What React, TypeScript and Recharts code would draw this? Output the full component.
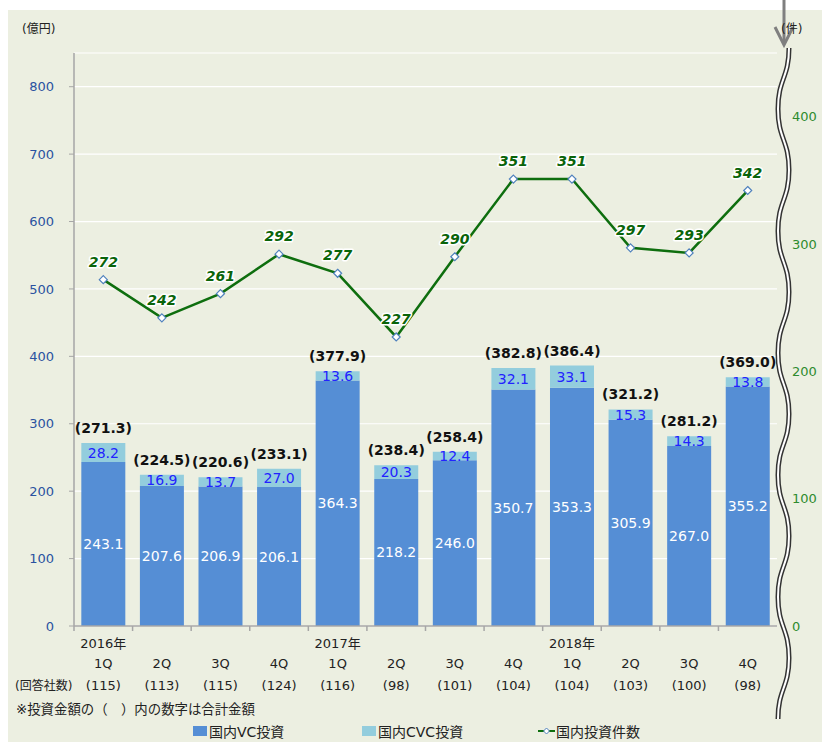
import { ComposedChart, Bar, Line, XAxis, YAxis, CartesianGrid, LabelList } from "recharts";

const IDS = ["16-1", "16-2", "16-3", "16-4", "17-1", "17-2", "17-3", "17-4", "18-1", "18-2", "18-3", "18-4"];
const QUARTERS = ["1Q", "2Q", "3Q", "4Q", "1Q", "2Q", "3Q", "4Q", "1Q", "2Q", "3Q", "4Q"];
const YEARS = ["2016年", "", "", "", "2017年", "", "", "", "2018年", "", "", ""];
const RESPONDENTS = [115, 113, 115, 124, 116, 98, 101, 104, 104, 103, 100, 98];
const VC = [243.1, 207.6, 206.9, 206.1, 364.3, 218.2, 246.0, 350.7, 353.3, 305.9, 267.0, 355.2];
const CVC = [28.2, 16.9, 13.7, 27.0, 13.6, 20.3, 12.4, 32.1, 33.1, 15.3, 14.3, 13.8];
const TOTAL = [271.3, 224.5, 220.6, 233.1, 377.9, 238.4, 258.4, 382.8, 386.4, 321.2, 281.2, 369.0];
const DEALS = [272, 242, 261, 292, 277, 227, 290, 351, 351, 297, 293, 342];
const LEFT_TICKS = [0, 100, 200, 300, 400, 500, 600, 700, 800];
const RIGHT_TICKS = [0, 100, 200, 300, 400];

const W = 822;
const H = 742;
const M_TOP = 53;
const LEFT_W = 74;
const RIGHT_W = 45;
const X_H = H - 626;
const BAND = (W - LEFT_W - RIGHT_W) / IDS.length;

const BG = "#ECEFE1";
const VC_COL = "#558ED5";
const CVC_COL = "#93CDDD";
const LINE_COL = "#0E6E0E";
const AXIS = "#A6A6A6";
const FONT = "'DejaVu Sans', 'Noto Sans CJK JP', sans-serif";

const data = IDS.map((id, i) => ({ id, vc: VC[i], cvc: CVC[i], deals: DEALS[i] }));

function XTick(props: any) {
  const { x, y, payload } = props;
  const i = payload.index;
  const lx = x - BAND / 2;
  return (
    <g fontFamily={FONT} fontSize={13} fill="#222">
      <line x1={lx} x2={lx} y1={y} y2={y + 5} stroke={AXIS} strokeWidth={1.5} />
      {YEARS[i] && (
        <text x={x} y={y + 17} textAnchor="middle" dominantBaseline="central" fill="#222">
          {YEARS[i]}
        </text>
      )}
      <text x={x} y={y + 37} textAnchor="middle" dominantBaseline="central" fill="#222">
        {QUARTERS[i]}
      </text>
      <text x={x} y={y + 59} textAnchor="middle" dominantBaseline="central" fill="#222">
        ({RESPONDENTS[i]})
      </text>
    </g>
  );
}

function Diamond(props: any) {
  const { cx, cy } = props;
  if (cx == null || cy == null) return null;
  return (
    <path
      d={`M${cx},${cy - 4} L${cx + 4},${cy} L${cx},${cy + 4} L${cx - 4},${cy} Z`}
      fill="#fff"
      stroke="#4F81BD"
      strokeWidth={1.2}
    />
  );
}

function CvcLabel(props: any) {
  const { x, y, width, height, index, value } = props;
  const cx = x + width / 2;
  return (
    <g fontFamily={FONT} fontSize={14}>
      <text x={cx} y={y + height / 2} textAnchor="middle" dominantBaseline="central" fill="#2222FF">
        {Number(value).toFixed(1)}
      </text>
      <text x={cx} y={y - 10} textAnchor="middle" fill="#111" fontWeight="bold">
        ({TOTAL[index].toFixed(1)})
      </text>
    </g>
  );
}

function DealLabel(props: any) {
  const { x, y, value } = props;
  return (
    <text
      x={x}
      y={y - 13}
      textAnchor="middle"
      fontFamily={FONT}
      fontSize={14}
      fontWeight="bold"
      fontStyle="italic"
      fill="#0A640A"
      stroke="#fff"
      strokeWidth={3}
      paintOrder="stroke"
      strokeLinejoin="round"
    >
      {value}
    </text>
  );
}

// wavy double line on the right edge (axis break mark)
const wavePath = (() => {
  let d = "M789,48";
  let y = 48;
  let right = true;
  for (let k = 0; k < 11; k++) {
    const from = right ? 789 : 778;
    const to = right ? 778 : 789;
    d += ` C${from},${y + 30} ${to},${y + 31} ${to},${y + 61}`;
    y += 61;
    right = !right;
  }
  return d;
})();

export default function App() {
  return (
    <div style={{ position: "absolute", left: 0, top: 0, width: W, height: H, background: "#fff", fontFamily: FONT }}>
      <div style={{ position: "absolute", left: 8, top: 10, width: W - 8, height: H - 10, background: BG }} />
      <div style={{ position: "absolute", left: 0, top: 0 }}>
        <ComposedChart
          width={W}
          height={H}
          data={data}
          margin={{ top: M_TOP, right: 0, left: 0, bottom: 0 }}
          barCategoryGap="12.5%"
        >
          <CartesianGrid yAxisId="left" vertical={false} stroke="#fff" strokeWidth={1.2} />
          <XAxis
            dataKey="id"
            height={X_H}
            interval={0}
            tick={<XTick />}
            tickLine={false}
            tickSize={0}
            tickMargin={0}
            axisLine={{ stroke: AXIS, strokeWidth: 1.5 }}
          />
          <YAxis
            yAxisId="left"
            width={LEFT_W}
            domain={[0, 850]}
            ticks={LEFT_TICKS}
            tickSize={5}
            tickMargin={15}
            tick={{ fontSize: 13, fill: "#2A52A0", fontFamily: FONT }}
            tickLine={{ stroke: AXIS }}
            axisLine={{ stroke: AXIS, strokeWidth: 1.5 }}
          />
          <YAxis
            yAxisId="right"
            orientation="right"
            width={RIGHT_W}
            domain={[0, 450]}
            ticks={RIGHT_TICKS}
            tickSize={0}
            tickMargin={15}
            tick={{ fontSize: 13, fill: "#2E8B2E", fontFamily: FONT, textAnchor: "start" }}
            tickLine={false}
            axisLine={false}
          />
          <Bar yAxisId="left" dataKey="vc" stackId="a" fill={VC_COL} isAnimationActive={false}>
            <LabelList
              dataKey="vc"
              position="center"
              fill="#fff"
              fontSize={14}
              fontFamily={FONT}
              formatter={(v: any) => Number(v).toFixed(1)}
            />
          </Bar>
          <Bar yAxisId="left" dataKey="cvc" stackId="a" fill={CVC_COL} isAnimationActive={false}>
            <LabelList dataKey="cvc" content={<CvcLabel />} />
          </Bar>
          <Line
            yAxisId="right"
            dataKey="deals"
            stroke={LINE_COL}
            strokeWidth={2.5}
            dot={<Diamond />}
            activeDot={false}
            isAnimationActive={false}
          >
            <LabelList dataKey="deals" content={<DealLabel />} />
          </Line>
        </ComposedChart>
      </div>

      <svg width={W} height={H} style={{ position: "absolute", left: 0, top: 0, pointerEvents: "none" }}>
        <path d={wavePath} fill="none" stroke="#333" strokeWidth={5} />
        <path d={wavePath} fill="none" stroke="#fff" strokeWidth={2} />
        <line x1={784} x2={784} y1={0} y2={44} stroke="#7F7F7F" strokeWidth={3} />
        <polyline points="775,27 784,45 793,27" fill="none" stroke="#7F7F7F" strokeWidth={3} />
      </svg>

      <div style={{ position: "absolute", left: 22, top: 19, fontSize: 12, color: "#222" }}>(億円)</div>
      <div style={{ position: "absolute", left: 781, top: 19, fontSize: 12, color: "#222" }}>(件)</div>
      <div style={{ position: "absolute", left: 15, top: 676, fontSize: 12, color: "#222" }}>(回答社数)</div>
      <div style={{ position: "absolute", left: 16, top: 698, fontSize: 13.4, color: "#222" }}>
        ※投資金額の（　）内の数字は合計金額
      </div>

      <div style={{ position: "absolute", left: 0, top: 721, width: W, height: 20, fontSize: 14, color: "#222" }}>
        <div style={{ position: "absolute", left: 193, top: 5, width: 14, height: 10, background: VC_COL }} />
        <div style={{ position: "absolute", left: 209, top: 0 }}>国内VC投資</div>
        <div style={{ position: "absolute", left: 362, top: 5, width: 14, height: 10, background: CVC_COL }} />
        <div style={{ position: "absolute", left: 378, top: 0 }}>国内CVC投資</div>
        <svg style={{ position: "absolute", left: 538, top: 0 }} width={18} height={20}>
          <line x1={0} x2={17} y1={10} y2={10} stroke={LINE_COL} strokeWidth={2} />
          <path d="M8.5,7 L11.5,10 L8.5,13 L5.5,10 Z" fill="#fff" stroke="#4F81BD" strokeWidth={1} />
        </svg>
        <div style={{ position: "absolute", left: 556, top: 0 }}>国内投資件数</div>
      </div>
    </div>
  );
}
